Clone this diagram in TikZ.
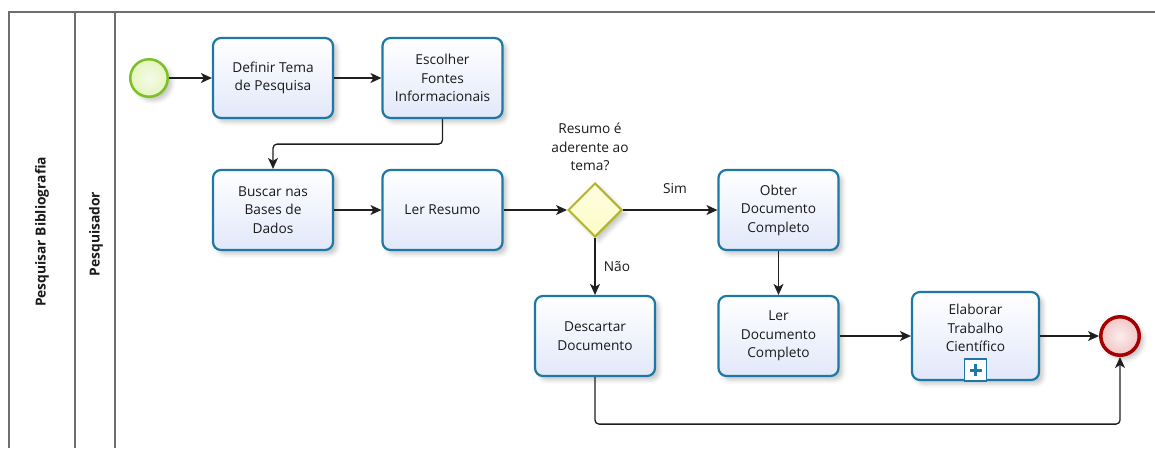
\documentclass[tikz,border=0pt]{standalone}
\usepackage{fontspec}
\setmainfont{Open Sans}
\usetikzlibrary{arrows.meta,shadows.blur,shapes.geometric}

\definecolor{taskline}{RGB}{30,120,165}
\definecolor{taskfill}{RGB}{226,232,250}
\definecolor{poolline}{RGB}{110,110,110}
\definecolor{startline}{RGB}{125,192,35}
\definecolor{startfill}{RGB}{228,245,192}
\definecolor{endline}{RGB}{165,0,0}
\definecolor{endfill}{RGB}{242,196,196}
\definecolor{gateline}{RGB}{180,180,40}
\definecolor{gatefill}{RGB}{252,252,198}
\definecolor{inktext}{RGB}{26,26,26}

\newcommand\bpmntxt{\fontsize{13.7}{18.5}\selectfont}

\tikzset{
  softshadow/.style={blur shadow={shadow xshift=4pt, shadow yshift=-4pt,
      shadow blur radius=4pt, shadow opacity=22}},
  tarefa/.style={rectangle, rounded corners=8pt, draw=taskline, line width=2.2pt,
      top color=white, bottom color=taskfill, minimum width=120pt,
      minimum height=80pt, inner sep=2pt, align=center, font=\bpmntxt,
      text=inktext, softshadow},
  rotulo/.style={align=center, font=\bpmntxt, text=inktext, inner sep=0pt},
  inicio/.style={circle, draw=startline, line width=2.5pt, inner sep=0pt,
      minimum size=37.5pt, inner color=startfill!40, outer color=startfill, softshadow},
  fim/.style={circle, draw=endline, line width=3.5pt, inner sep=0pt,
      minimum size=38.5pt, inner color=endfill!30, outer color=endfill, softshadow},
  gateway/.style={diamond, aspect=1, draw=gateline, line width=2pt, inner sep=0pt,
      minimum width=54pt, minimum height=54pt, top color=gatefill!50,
      bottom color=gatefill, softshadow},
  fluxo/.style={draw=black!88, line width=1.3pt,
      -{Stealth[length=11pt,width=10pt,inset=3pt]}},
  raia/.style={draw=poolline, line width=1.5pt},
  titulo/.style={font=\fontsize{13.8}{15}\selectfont\bfseries, text=inktext,
      rotate=90, inner sep=0pt},
}

\begin{document}
\begin{tikzpicture}[x=1pt,y=-1pt]
\useasboundingbox (0,0) rectangle (1155,448);

% pool and lane frame
\draw[raia] (1155,12) -- (9,12) -- (9,448);
\draw[raia] (75,12) -- (75,448);
\draw[raia] (115,12) -- (115,448);
\node[titulo] (pool) at (42,232) {Pesquisar Bibliografia};
\node[titulo] (lane) at (96,234) {Pesquisador};

% events, tasks and gateway
\node[inicio] (start) at (149,78) {};
\node[tarefa] (definir) at (273,78) {Definir Tema\\de Pesquisa};
\node[tarefa] (escolher) at (442.5,78) {Escolher\\Fontes\\Informacionais};
\node[tarefa] (buscar) at (273,210) {Buscar nas\\Bases de\\Dados};
\node[tarefa] (lerres) at (442.5,210) {Ler Resumo};
\node[gateway] (gw) at (595,210) {};
\node[tarefa] (obter) at (778.5,210) {Obter\\Documento\\Completo};
\node[tarefa] (descartar) at (595,336) {Descartar\\Documento};
\node[tarefa] (lerdoc) at (778.5,336) {Ler\\Documento\\Completo};
\node[tarefa, minimum width=127pt, minimum height=88pt] (elab) at (975.5,336) {};
\node[rotulo] (elabtxt) at (975.5,328) {Elaborar\\Trabalho\\Científico};
\node[rectangle, draw=taskline, fill=white, line width=1.8pt, minimum size=22pt,
      inner sep=0pt, anchor=south] (marca) at ([yshift=-1.1pt]elab.south) {};
\draw[taskline, line width=3.2pt] ([xshift=-6pt]marca.center) -- ([xshift=6pt]marca.center);
\draw[taskline, line width=3.2pt] ([yshift=-6pt]marca.center) -- ([yshift=6pt]marca.center);
\node[fim] (end) at (1120,336) {};

% gateway question and branch labels
\node[rotulo] (pergunta) at (590,147) {Resumo é\\aderente ao\\tema?};
\node[rotulo] (sim) at (675,189) {Sim};
\node[rotulo] (nao) at (617,267) {Não};

% sequence flows
\draw[fluxo] (start) -- (definir);
\draw[fluxo] (definir) -- (escolher);
\draw[fluxo, rounded corners=4pt] (escolher.south) -- ++(0,25) -| (buscar.north);
\draw[fluxo] (buscar) -- (lerres);
\draw[fluxo] (lerres.east) -- (gw.west);
\draw[fluxo] (gw.east) -- (obter.west);
\draw[fluxo] (gw.south) -- (descartar.north);
\draw[fluxo] (obter) -- (lerdoc);
\draw[fluxo] (lerdoc) -- (elab.west |- lerdoc.east);
\draw[fluxo] (elab.east |- end.west) -- (end.west);
\draw[fluxo, rounded corners=4pt] (descartar.south) -- ++(0,47) -| (end.south);
\end{tikzpicture}
\end{document}
